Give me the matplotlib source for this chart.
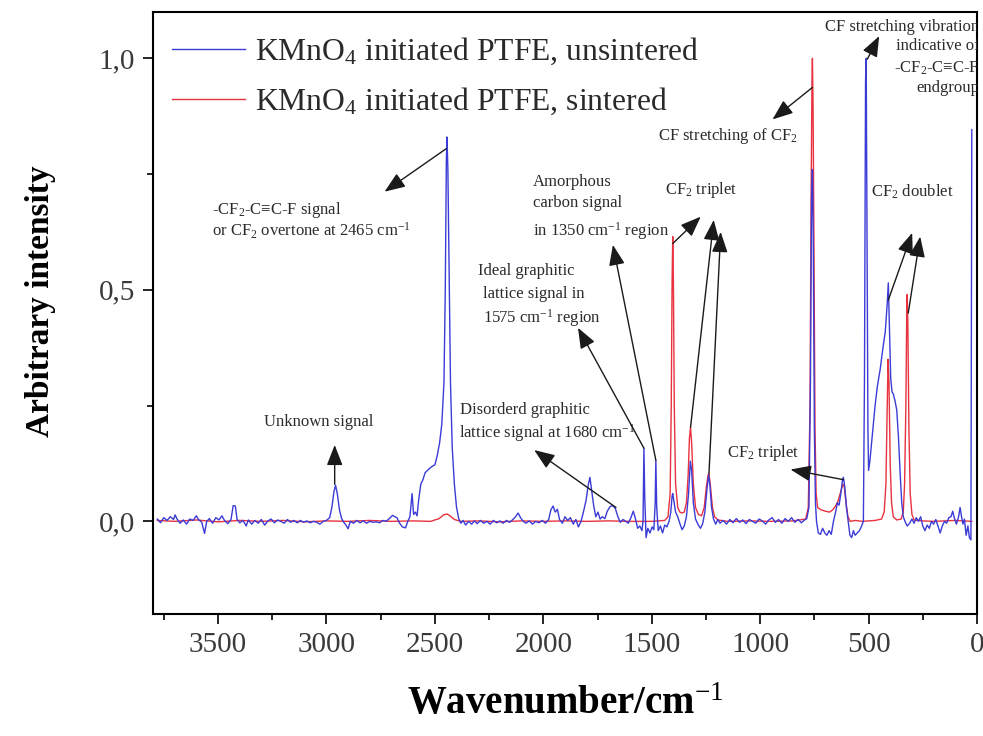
import matplotlib
matplotlib.use("Agg")
import matplotlib.pyplot as plt
from matplotlib.ticker import MultipleLocator

plt.rcParams['font.family'] = ['Liberation Serif', 'DejaVu Serif']
plt.rcParams['mathtext.fontset'] = 'custom'
plt.rcParams['mathtext.rm'] = 'Liberation Serif'
plt.rcParams['mathtext.it'] = 'Liberation Serif:italic'
plt.rcParams['mathtext.bf'] = 'Liberation Serif:bold'

# ---------------- data ----------------
series_labels = ["KMnO$_4$ initiated PTFE, unsintered",
                 "KMnO$_4$ initiated PTFE, sintered"]

unsintered_wn = [
    3780, 3765, 3750, 3735, 3720, 3705, 3698, 3690, 3675, 3660, 3645, 3630, 3615, 3600,
    3590, 3575, 3562, 3552, 3540, 3525, 3510, 3495, 3482, 3470, 3455, 3440, 3430, 3420,
    3412, 3400, 3385, 3370, 3360, 3345, 3330, 3315, 3300, 3285, 3270, 3255, 3240, 3225,
    3210, 3195, 3180, 3165, 3150, 3135, 3120, 3105, 3090, 3075, 3060, 3045, 3030, 3015,
    3000, 2985, 2975, 2965, 2958, 2950, 2940, 2930, 2920, 2910, 2900, 2890, 2875, 2860,
    2845, 2830, 2815, 2800, 2785, 2770, 2755, 2740, 2725, 2710, 2695, 2685, 2675, 2665,
    2650, 2635, 2625, 2615, 2605, 2598, 2590, 2582, 2575, 2565, 2555, 2545, 2530, 2515,
    2500, 2490, 2478, 2468, 2458, 2452, 2447, 2444, 2440, 2434, 2428, 2420, 2410, 2400,
    2390, 2380, 2370, 2358, 2345, 2330, 2318, 2305, 2290, 2275, 2260, 2245, 2230, 2215,
    2200, 2185, 2170, 2155, 2140, 2128, 2116, 2105, 2092, 2080, 2065, 2050, 2035, 2020,
    2005, 1990, 1975, 1965, 1955, 1945, 1935, 1925, 1912, 1900, 1888, 1875, 1862, 1850,
    1838, 1826, 1815, 1803, 1792, 1785, 1778, 1768, 1758, 1748, 1738, 1728, 1716, 1705,
    1692, 1680, 1668, 1656, 1645, 1632, 1620, 1608, 1596, 1585, 1575, 1565, 1555, 1545,
    1540, 1536, 1532, 1526, 1518, 1508, 1498, 1490, 1484, 1481, 1477, 1470, 1460, 1450,
    1440, 1430, 1420, 1412, 1406, 1403, 1398, 1390, 1380, 1370, 1360, 1350, 1340, 1330,
    1322, 1316, 1308, 1298, 1285, 1275, 1265, 1255, 1245, 1238, 1232, 1224, 1215, 1205,
    1195, 1185, 1170, 1155, 1140, 1125, 1110, 1095, 1080, 1065, 1050, 1035, 1020, 1005,
    990, 975, 960, 945, 930, 915, 900, 885, 870, 855, 840, 825, 810, 795,
    785, 775, 768, 763, 759, 755, 750, 745, 740, 732, 722, 712, 702, 692,
    682, 672, 662, 652, 644, 636, 628, 620, 616, 610, 602, 594, 586, 578,
    570, 562, 552, 542, 532, 524, 519, 514, 511, 507, 503, 500, 494, 486,
    478, 470, 460, 446, 435, 423, 414, 409, 404, 398, 392, 386, 378, 370,
    362, 354, 347, 340, 332, 322, 312, 300, 290, 280, 270, 260, 250, 240,
    230, 220, 210, 200, 190, 180, 170, 160, 150, 140, 130, 120, 112, 105,
    95, 85, 78, 72, 65, 58, 50, 42, 35, 28, 24]

unsintered_int = [
    0.005, -0.003, 0.008, 0.002, 0.010, 0.004, 0.014, 0.006, -0.004, 0.003, -0.006, 0.005, 0.002, 0.012,
    0.004, -0.002, -0.026, 0.000, 0.006, -0.004, 0.008, 0.003, 0.012, 0.002, -0.005, 0.004, 0.034, 0.033,
    0.004, -0.003, 0.002, -0.010, 0.003, -0.006, 0.002, -0.004, 0.004, -0.008, 0.001, 0.005, -0.003, 0.003,
    0.000, -0.004, 0.004, -0.002, 0.002, -0.003, 0.002, -0.002, 0.001, -0.003, 0.000, -0.002, -0.006, 0.000,
    0.002, 0.008, 0.030, 0.065, 0.078, 0.060, 0.025, 0.006, -0.002, -0.008, -0.016, 0.000, -0.004, 0.002,
    -0.003, 0.001, -0.004, 0.000, -0.002, -0.001, -0.003, 0.002, 0.000, 0.006, 0.013, 0.010, 0.008, -0.002,
    -0.012, -0.014, 0.000, 0.010, 0.060, 0.015, 0.020, 0.012, 0.045, 0.080, 0.090, 0.105, 0.112, 0.118,
    0.122, 0.140, 0.170, 0.210, 0.300, 0.500, 0.780, 0.830, 0.760, 0.520, 0.300, 0.160, 0.080, 0.030,
    0.006, -0.004, 0.002, -0.008, 0.000, -0.006, 0.001, -0.005, 0.002, -0.004, 0.000, -0.006, 0.002, -0.003,
    0.001, -0.004, 0.002, -0.002, 0.004, 0.010, 0.018, 0.008, 0.000, -0.004, 0.001, -0.006, 0.000, -0.003,
    0.002, -0.004, 0.004, 0.025, 0.033, 0.020, 0.026, 0.004, -0.004, 0.010, 0.002, 0.008, -0.006, 0.004,
    -0.012, 0.000, 0.020, 0.045, 0.080, 0.095, 0.070, 0.035, 0.010, 0.020, 0.005, 0.010, 0.006, 0.022,
    0.032, 0.034, 0.028, 0.010, -0.002, 0.004, 0.000, -0.004, 0.008, 0.022, 0.006, -0.015, -0.010, -0.020,
    0.000, 0.158, 0.050, -0.035, -0.015, -0.025, -0.012, -0.018, 0.040, 0.132, 0.030, -0.020, -0.010, -0.025,
    -0.008, -0.012, 0.000, 0.020, 0.055, 0.060, 0.045, 0.020, 0.010, -0.005, -0.018, -0.010, 0.010, 0.060,
    0.130, 0.110, 0.040, 0.005, -0.008, -0.015, -0.005, 0.020, 0.070, 0.100, 0.080, 0.030, 0.005, -0.006,
    0.004, -0.004, 0.002, -0.006, 0.004, -0.003, 0.006, -0.002, 0.003, -0.005, 0.004, 0.000, -0.004, 0.005,
    0.001, -0.006, 0.003, 0.008, -0.002, 0.004, -0.004, 0.006, 0.000, 0.008, -0.002, 0.004, -0.003, 0.003,
    0.006, 0.030, 0.300, 0.700, 0.760, 0.600, 0.200, 0.040, 0.000, -0.025, -0.028, -0.015, -0.025, -0.030,
    -0.020, -0.028, 0.000, 0.020, 0.040, 0.035, 0.060, 0.090, 0.095, 0.075, 0.030, 0.000, -0.030, -0.035,
    -0.020, -0.030, -0.025, -0.020, -0.010, 0.000, 0.300, 0.950, 1.000, 0.600, 0.200, 0.110, 0.130, 0.170,
    0.210, 0.250, 0.290, 0.330, 0.370, 0.410, 0.470, 0.515, 0.420, 0.310, 0.280, 0.275, 0.260, 0.240,
    0.180, 0.100, 0.040, 0.010, 0.000, -0.010, -0.005, 0.005, -0.004, 0.008, 0.000, 0.010, -0.010, -0.020,
    -0.008, -0.015, 0.000, -0.006, 0.004, -0.010, -0.025, -0.010, 0.000, -0.004, 0.008, 0.010, 0.022, 0.008,
    -0.006, 0.010, 0.030, 0.012, -0.006, 0.005, -0.030, -0.010, -0.035, -0.040, 0.846]

sintered_wn = [
    3780, 3700, 3600, 3500, 3400, 3300, 3200, 3100, 3000, 2900, 2800, 2700, 2600, 2520,
    2480, 2460, 2444, 2430, 2410, 2380, 2300, 2200, 2100, 2000, 1900, 1800, 1700, 1600,
    1500, 1440, 1425, 1415, 1410, 1406, 1403, 1400, 1396, 1390, 1380, 1370, 1360, 1350,
    1340, 1332, 1326, 1321, 1316, 1308, 1298, 1285, 1270, 1258, 1248, 1240, 1236, 1230,
    1220, 1210, 1195, 1150, 1050, 950, 850, 790, 778, 770, 765, 761, 759, 756,
    752, 747, 742, 735, 720, 700, 680, 665, 650, 640, 628, 618, 612, 604,
    595, 585, 560, 530, 500, 470, 440, 428, 420, 414, 410, 406, 400, 394,
    386, 370, 350, 340, 334, 328, 324, 322, 319, 314, 308, 300, 290, 250,
    200, 100, 24]

sintered_int = [
    0.002, 0.000, 0.003, -0.001, 0.002, 0.000, 0.002, -0.001, 0.001, 0.000, 0.002, 0.000, 0.001, 0.000,
    0.006, 0.014, 0.016, 0.012, 0.004, 0.000, 0.001, -0.001, 0.001, 0.000, 0.001, 0.000, 0.001, 0.000,
    0.000, 0.002, 0.010, 0.060, 0.250, 0.520, 0.615, 0.520, 0.250, 0.080, 0.030, 0.020, 0.018, 0.020,
    0.040, 0.100, 0.180, 0.203, 0.170, 0.080, 0.030, 0.015, 0.012, 0.030, 0.075, 0.100, 0.103, 0.080,
    0.030, 0.010, 0.003, 0.000, 0.001, 0.000, 0.001, 0.005, 0.030, 0.250, 0.700, 0.950, 1.000, 0.900,
    0.600, 0.200, 0.060, 0.030, 0.025, 0.022, 0.020, 0.025, 0.035, 0.045, 0.065, 0.080, 0.075, 0.040,
    0.010, 0.000, 0.002, 0.000, 0.001, 0.002, 0.005, 0.020, 0.080, 0.250, 0.350, 0.300, 0.120, 0.040,
    0.010, 0.003, 0.005, 0.020, 0.080, 0.250, 0.450, 0.490, 0.430, 0.200, 0.060, 0.015, 0.003, 0.001,
    0.000, 0.002, 0.000]

x_ticks = [3500, 3000, 2500, 2000, 1500, 1000, 500, 0]
x_tick_labels = ["3500", "3000", "2500", "2000", "1500", "1000", "500", "0"]
y_ticks = [0.0, 0.5, 1.0]
y_tick_labels = ["0,0", "0,5", "1,0"]

# ---------------- figure ----------------
fig = plt.figure(figsize=(9.83, 7.36), dpi=100)
ax = fig.add_axes([0.1556, 0.1658, 0.8383, 0.8179])

blue = '#3b3bd6'
red = '#e8323f'
ax.plot(unsintered_wn, unsintered_int, color=blue, lw=1.0, label=series_labels[0], zorder=3)
ax.plot(sintered_wn, sintered_int, color=red, lw=1.0, label=series_labels[1], zorder=2)

ax.set_xlim(3800, 0)
ax.set_ylim(-0.2, 1.1)
ax.set_xticks(x_ticks)
ax.set_xticklabels(x_tick_labels)
ax.set_yticks(y_ticks)
ax.set_yticklabels(y_tick_labels)
ax.xaxis.set_minor_locator(MultipleLocator(250))
ax.yaxis.set_minor_locator(MultipleLocator(0.25))
ax.tick_params(which='major', direction='out', length=7, width=1.2, labelsize=21,
               labelcolor='#3a3a3a', pad=6)
ax.tick_params(which='minor', direction='out', length=4, width=1.2)
for s in ax.spines.values():
    s.set_linewidth(1.5)

ax.set_xlabel("Wavenumber/cm$^{-1}$", fontsize=28, fontweight='bold', labelpad=20)
ax.set_ylabel("Arbitrary intensity", fontsize=24, fontweight='bold')
ax.yaxis.set_label_coords(-0.118, 0.52)

leg = ax.legend(loc='upper left', frameon=False, fontsize=22.8, handlelength=2.3,
                handletextpad=0.3, labelspacing=0.6, borderaxespad=0.0,
                bbox_to_anchor=(0.008, 0.982))
for t in leg.get_texts():
    t.set_color('#2a2a2a')

# ---------------- annotations ----------------
tc = '#2b2b2b'
fs = 12
ap = dict(arrowstyle='-|>,head_length=0.9,head_width=0.35', color='#1a1a1a', lw=1.0,
          shrinkA=0, shrinkB=0, mutation_scale=14)

ax.annotate("", xy=(2732, 0.712), xytext=(2447, 0.805), arrowprops=ap)
ax.text(3530, 0.672, "-CF$_2$-C\u2261C-F signal", fontsize=fs, color=tc, va='center', ha='left')
ax.text(3530, 0.628, "or CF$_2$ overtone at 2465 cm$^{-1}$", fontsize=fs, color=tc, va='center', ha='left')

ax.annotate("", xy=(2962, 0.165), xytext=(2962, 0.080), arrowprops=ap)
ax.text(3036, 0.214, "Unknown signal", fontsize=fs, color=tc, va='center', ha='center')

ax.annotate("", xy=(2042, 0.154), xytext=(1665, 0.030), arrowprops=ap)
ax.text(2385, 0.240, "Disorderd graphitic", fontsize=fs, color=tc, va='center', ha='left')
ax.text(2390, 0.190, "lattice signal at 1680 cm$^{-1}$", fontsize=fs, color=tc, va='center', ha='left')

ax.annotate("", xy=(1840, 0.418), xytext=(1536, 0.158), arrowprops=ap)
ax.text(2300, 0.540, "Ideal graphitic", fontsize=fs, color=tc, va='center', ha='left')
ax.text(2280, 0.492, "lattice signal in", fontsize=fs, color=tc, va='center', ha='left')
ax.text(2280, 0.440, "1575 cm$^{-1}$ region", fontsize=fs, color=tc, va='center', ha='left')

ax.annotate("", xy=(1679, 0.597), xytext=(1481, 0.132), arrowprops=ap)
ax.text(2047, 0.733, "Amorphous", fontsize=fs, color=tc, va='center', ha='left')
ax.text(2047, 0.688, "carbon signal", fontsize=fs, color=tc, va='center', ha='left')
ax.text(2047, 0.628, "in 1350 cm$^{-1}$ region", fontsize=fs, color=tc, va='center', ha='left')

ax.text(1274, 0.716, "CF$_2$ triplet", fontsize=fs, color=tc, va='center', ha='center')
ax.annotate("", xy=(1274, 0.658), xytext=(1403, 0.600), arrowprops=ap)
ax.annotate("", xy=(1214, 0.651), xytext=(1321, 0.203), arrowprops=ap)
ax.annotate("", xy=(1182, 0.625), xytext=(1236, 0.103), arrowprops=ap)

ax.text(1150, 0.833, "CF stretching of CF$_2$", fontsize=fs, color=tc, va='center', ha='center')
ax.annotate("", xy=(943, 0.868), xytext=(759, 0.937), arrowprops=ap)

ax.text(984, 0.147, "CF$_2$ triplet", fontsize=fs, color=tc, va='center', ha='center')
ax.annotate("", xy=(860, 0.112), xytext=(616, 0.090), arrowprops=ap)

ax.text(299, 0.712, "CF$_2$ doublet", fontsize=fs, color=tc, va='center', ha='center')
ax.annotate("", xy=(299, 0.623), xytext=(409, 0.478), arrowprops=ap)
ax.annotate("", xy=(262, 0.615), xytext=(317, 0.450), arrowprops=ap)

ax.annotate("", xy=(451, 1.048), xytext=(506, 0.998), arrowprops=ap)
for txt, yy in [("CF stretching vibration", 1.068), ("indicative of", 1.027),
                ("-CF$_2$-C\u2261C-F", 0.978), ("endgroup", 0.935)]:
    ax.text(-12, yy, txt, fontsize=fs, color=tc, va='center', ha='right', clip_on=True)

fig.savefig("out.png", dpi=100)
